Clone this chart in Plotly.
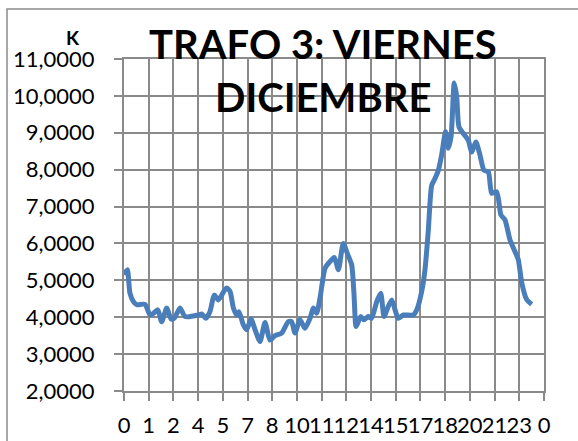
import plotly.graph_objects as go

# ---- data ----
hours = [0.00, 0.19, 0.34, 0.53, 0.73, 1.20, 1.49, 1.67, 1.93, 2.15, 2.44, 2.69, 2.87,
         3.20, 3.49, 4.25, 4.44, 4.67, 4.91, 5.16, 5.39, 5.77, 5.87, 6.06, 6.25, 6.44,
         6.57, 6.82, 7.01, 7.26, 7.49, 7.77, 8.06, 8.34, 8.63, 9.01, 9.39, 9.58, 9.77,
         10.06, 10.34, 10.63, 10.82, 11.01, 11.20, 11.49, 11.77, 12.02, 12.25, 12.53,
         12.76, 13.01, 13.14, 13.26, 13.39, 13.53, 13.71, 13.96, 14.15, 14.44, 14.67,
         14.86, 15.10, 15.30, 15.49, 15.67, 15.96, 16.53, 16.73, 17.01, 17.20, 17.39,
         17.58, 17.77, 17.96, 18.15, 18.38, 18.53, 18.69, 18.87, 19.01, 19.14, 19.39,
         19.67, 19.87, 20.11, 20.34, 20.57, 20.82, 21.01, 21.30, 21.54, 21.77, 22.06,
         22.34, 22.53, 22.73, 23.01, 23.30]
k_values = [5.15, 5.29, 4.65, 4.43, 4.34, 4.35, 4.06, 4.10, 4.20, 3.88, 4.25, 3.95, 3.97,
            4.25, 4.02, 4.06, 4.09, 3.97, 4.15, 4.60, 4.47, 4.75, 4.79, 4.70, 4.25, 4.06,
            4.15, 3.79, 3.66, 3.95, 3.66, 3.34, 3.86, 3.38, 3.50, 3.57, 3.88, 3.88, 3.57,
            3.93, 3.70, 3.97, 4.25, 4.11, 4.52, 5.33, 5.51, 5.62, 5.29, 6.00,
            5.73, 5.42, 4.65, 3.75, 3.88, 4.02, 3.93, 4.02, 3.97, 4.42, 4.65,
            4.02, 4.29, 4.47, 4.20, 3.97, 4.06, 4.06, 4.20, 4.70, 5.29, 6.36,
            7.57, 7.76, 7.98, 8.40, 9.03, 8.58, 8.90, 10.35, 9.98, 9.16, 8.98,
            8.80, 8.48, 8.75, 8.40, 7.98, 7.94, 7.36, 7.40, 6.77, 6.64, 6.09,
            5.78, 5.56, 4.93, 4.48, 4.35]

x_tick_labels = ["0", "1", "2", "4", "5", "7", "8", "10", "11", "12", "14", "15",
                 "17", "18", "20", "21", "23", "0"]
y_tick_values = [2, 3, 4, 5, 6, 7, 8, 9, 10, 11]
y_tick_labels = [f"{v},0000" for v in y_tick_values]

title_line1 = "TRAFO 3: VIERNES"
title_line2 = "DICIEMBRE"
y_title = "K"

# ---- layout geometry (screen pixels; page body margin removed in post_script) ----
W, H = 578, 441
PLOT_L, PLOT_R, PLOT_T, PLOT_B = 124, 544, 59, 391
ML, MT = PLOT_L, PLOT_T
MR = W - PLOT_R
MB = H - PLOT_B
PW, PH = PLOT_R - PLOT_L, PLOT_B - PLOT_T


def px_x(p):
    return (p - PLOT_L) / PW


def px_y(p):
    return (PLOT_B - p) / PH


FONT = "Lato"
GRID = "#8a8a8a"
LINE = "#4A7EBB"

n_int = len(x_tick_labels) - 1
x_tick_vals = [24 * i / n_int for i in range(len(x_tick_labels))]

fig = go.Figure()
fig.add_trace(go.Scatter(
    x=hours, y=k_values, mode="lines",
    line=dict(color=LINE, width=5, shape="spline", smoothing=0.6),
    hoverinfo="skip", showlegend=False,
))

fig.update_layout(
    width=W, height=H,
    margin=dict(l=ML, r=MR, t=MT, b=MB, pad=0, autoexpand=False),
    paper_bgcolor="white", plot_bgcolor="white",
    font=dict(family=FONT, color="black"),
    showlegend=False,
    xaxis=dict(
        range=[0, 24], tickmode="array", tickvals=x_tick_vals, ticktext=x_tick_labels,
        tickangle=0, showgrid=True, gridcolor=GRID, gridwidth=2,
        showline=True, linecolor=GRID, linewidth=2, mirror=True,
        ticks="outside", ticklen=8, tickcolor=GRID, tickwidth=2,
        tickfont=dict(size=22, family=FONT), zeroline=False,
        ticklabelstandoff=6, automargin=False,
    ),
    yaxis=dict(
        range=[2, 11], tickmode="array", tickvals=y_tick_values, ticktext=y_tick_labels,
        showgrid=True, gridcolor=GRID, gridwidth=2,
        showline=True, linecolor=GRID, linewidth=2, mirror=True,
        ticks="outside", ticklen=8, tickcolor=GRID, tickwidth=2,
        tickfont=dict(size=22, family=FONT), zeroline=False,
        ticklabelstandoff=15, automargin=False,
    ),
)

fig.add_annotation(text=f"<b>{title_line1}</b>", xref="paper", yref="paper",
                   x=px_x(323), y=px_y(44), xanchor="center", yanchor="middle",
                   showarrow=False, font=dict(size=40, family=FONT, color="black"))
fig.add_annotation(text=f"<b>{title_line2}</b>", xref="paper", yref="paper",
                   x=px_x(323), y=px_y(97), xanchor="center", yanchor="middle",
                   showarrow=False, font=dict(size=40, family=FONT, color="black"))
fig.add_annotation(text=f"<b>{y_title}</b>", xref="paper", yref="paper",
                   x=px_x(73), y=px_y(37), xanchor="center", yanchor="middle",
                   showarrow=False, font=dict(size=19, family=FONT, color="black"))

# outer chart-area border (extends past right/bottom edges like the reference crop)
fig.add_shape(type="rect", xref="paper", yref="paper",
              x0=px_x(7), y0=px_y(H + 20), x1=px_x(W + 20), y1=px_y(9),
              line=dict(color="#8c8c8c", width=1.5), fillcolor="rgba(0,0,0,0)",
              layer="above")

fig.write_html("out.html", config={"displayModeBar": False},
               post_script="document.body.style.margin='0px';")
